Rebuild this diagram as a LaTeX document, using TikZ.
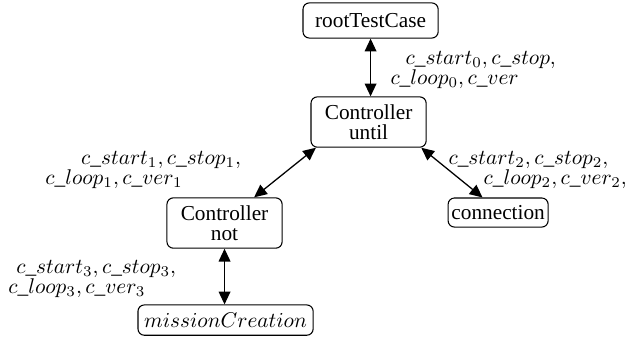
\documentclass[tikz,border=0pt]{standalone}
\usepackage[no-math]{fontspec}
\setmainfont{Liberation Serif}
\newfontfamily\boxfont{Liberation Serif}
\usetikzlibrary{arrows.meta}

\tikzset{
  box/.style={draw, rounded corners=3pt, line width=0.5pt, inner sep=1pt, align=center, font=\boxfont\fontsize{10}{9.5}\selectfont},
  lbl/.style={anchor=west, inner sep=0pt, align=left, font=\fontsize{10}{9.5}\selectfont},
  link/.style={<->, >={Triangle[length=6pt,width=5.5pt]}, line width=0.6pt}
}

\begin{document}
\begin{tikzpicture}
\useasboundingbox (0,0) rectangle (10.31,5.577);
% the controllers
\node[box, minimum width=2.23cm, minimum height=0.58cm] (root) at (6.113,5.239) {rootTestCase};
\node[box, minimum width=1.90cm, minimum height=0.83cm] (until) at (6.080,3.564) {Controller\\until};
\node[box, minimum width=1.90cm, minimum height=0.83cm] (nnot) at (3.704,1.898) {Controller\\not};
\node[box, minimum width=1.65cm, minimum height=0.48cm] (conn) at (8.217,2.071) {connection};
\node[box, minimum width=2.89cm, minimum height=0.50cm] (mission) at (3.721,0.297) {$missionCreation$};
% the links
\draw[link] (root.south) -- (root.south |- until.north);
\draw[link] (until.206) -- (nnot.41);
\draw[link] (until.334.5) -- (conn.136);
\draw[link] (nnot.south) -- (nnot.south |- mission.north);
% the labels
\node[lbl] (l0) at (6.435,4.422) {\hspace*{0.25cm}$c\_start_0, c\_stop,$\\$c\_loop_0, c\_ver$};
\node[lbl] (l1) at (0.743,2.772) {\hspace*{0.59cm}$c\_start_1, c\_stop_1,$\\$c\_loop_1, c\_ver_1$};
\node[lbl] (l2) at (7.392,2.772) {$c\_start_2, c\_stop_2,$\\\hspace*{0.58cm}$c\_loop_2, c\_ver_2,$};
\node[lbl] (l3) at (0.132,0.974) {\hspace*{0.13cm}$c\_start_3, c\_stop_3,$\\$c\_loop_3, c\_ver_3$};
\end{tikzpicture}
\end{document}
